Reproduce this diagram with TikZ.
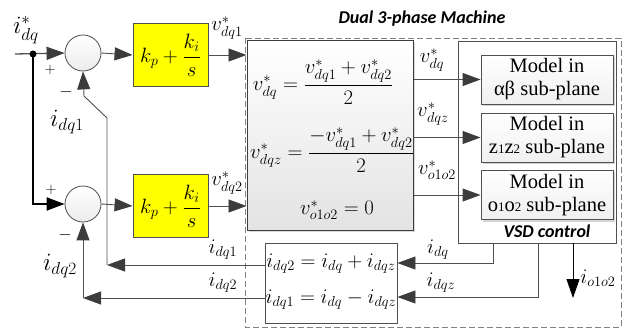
\documentclass[tikz,border=0pt]{standalone}
\usepackage{amsmath}
\usepackage{fontspec}
\setmainfont{Liberation Serif}
\newfontfamily\titlefont{Carlito}
\usetikzlibrary{arrows.meta,shadows,calc}
\definecolor{lc}{HTML}{505050}
\definecolor{ac}{HTML}{3C3C3C}
\definecolor{yel}{HTML}{FFFF00}
\tikzset{
  ln/.style={draw=lc, line width=0.9pt},
  arr/.style={ln, -{Triangle[length=18pt,width=13pt,color=ac,fill=ac]}},
  sumc/.style={circle, draw=lc, line width=0.8pt, minimum size=36pt, inner sep=0pt,
    top color=white, bottom color=gray!15},
  pibox/.style={draw=lc, line width=0.9pt, fill=yel, minimum width=75pt, minimum height=63pt, inner sep=0pt},
  mbox/.style={draw=lc, line width=0.9pt, top color=white, bottom color=gray!12,
    minimum width=132pt, minimum height=49pt, inner sep=0pt, align=center,
    font=\fontsize{20.5}{23}\selectfont,
    drop shadow={shadow xshift=2pt, shadow yshift=-2pt, opacity=0.35}},
  lbl/.style={inner sep=0pt},
  ttl/.style={font=\titlefont\bfseries\itshape\fontsize{18}{20}\selectfont, inner sep=0pt},
}
\begin{document}
\begin{tikzpicture}[x=1pt,y=-1pt, font=\fontsize{20.5}{24}\selectfont]
\useasboundingbox (0,0) rectangle (625,329);

% machine dashed frame
\draw[draw=gray, line width=0.9pt, dash pattern=on 6pt off 3pt] (245,38) rectangle (621,327);
\node[ttl] (title) at (422,19) {Dual 3-phase Machine};

% summing junctions and PI blocks
\node[sumc] (s1) at (83,53) {};
\node[sumc] (s2) at (83,204) {};
\node[pibox] (p1) at (170.5,55) {$k_p+\dfrac{k_i}{s}$};
\node[pibox] (p2) at (170.5,206) {$k_p+\dfrac{k_i}{s}$};

% equation box
\node[draw=ac, line width=1pt, top color=white, bottom color=gray!22, minimum width=166pt, minimum height=189pt,
  drop shadow={shadow xshift=2pt, shadow yshift=-2pt, opacity=0.3}] (eq) at (330,135.5) {};
\node[lbl] (e1) at (323,82) {$v^*_{dq}=\dfrac{v^*_{dq1}+v^*_{dq2}}{2}$};
\node[lbl] (e2) at (332,150) {$v^*_{dqz}=\dfrac{-v^*_{dq1}+v^*_{dq2}}{2}$};
\node[lbl] (e3) at (337,210) {$v^*_{o1o2}=0$};

% VSD control
\node[draw=lc, line width=0.9pt, minimum width=158pt, minimum height=202pt, inner sep=0pt] (vsd) at (537,142) {};
\node[mbox] (m1) at (547,79.5) {Model in\\αβ sub-plane};
\node[mbox] (m2) at (547,137.5) {Model in\\z{\fontsize{13}{13}\selectfont 1}z{\fontsize{13}{13}\selectfont 2} sub-plane};
\node[mbox] (m3) at (547,195) {Model in\\o{\fontsize{13}{13}\selectfont 1}o{\fontsize{13}{13}\selectfont 2} sub-plane};
\node[ttl] (vsdl) at (547,231) {VSD control};

% current equation box
\node[draw=lc, line width=0.9pt, minimum width=132pt, minimum height=80pt, inner sep=0pt] (ib) at (331,283) {};
\node[lbl] (ia) at (331,264) {$i_{dq2}=i_{dq}+i_{dqz}$};
\node[lbl] (ibq) at (331,300) {$i_{dq1}=i_{dq}-i_{dqz}$};

% input
\coordinate (in) at (15,54);
\coordinate (dot) at (33,54);
\draw[arr, line width=1.3pt] (in) -- (s1.west);
\draw[line width=1.8pt, black, -{Triangle[length=18pt,width=13pt,black]}] (dot) |- (s2.west);
\fill[black] (dot) circle (3.5pt);

% forward paths
\draw[arr] (s1.east) -- (p1.west);
\draw[arr] (s2.east) -- (p2.west);
\draw[arr] (p1.east) -- (p1.east -| eq.west);
\draw[arr] (p2.east) -- (p2.east -| eq.west);

% eq box to models
\draw[arr] (eq.east |- m1.west) -- (m1.west);
\draw[arr] (eq.east |- m2.west) -- (m2.west);
\draw[arr] (eq.east |- m3.west) -- (m3.west);

% VSD outputs
\coordinate (c1) at (493,263);
\coordinate (c2) at (538,297);
\coordinate (c3) at (573,298);
\draw[arr] (vsd.south -| c1) -- (c1) -- (c1 -| ib.east);
\draw[arr] (vsd.south -| c2) -- (c2) -- (c2 -| ib.east);
\draw[line width=0.9pt, black, -{Triangle[length=19pt,width=13pt,black]}] (vsd.south -| c3) -- (c3);

% feedback paths
\coordinate (f1) at (107,265);
\coordinate (f1b) at (107,118);
\coordinate (f1c) at (84,96);
\coordinate (f2) at (83,298);
\draw[arr] (ib.west |- f1) -- (f1);
\draw[arr] (f1) -- (f1b) -- (f1c) -- (s1.south);
\draw[arr] (ib.west |- f2) -- (f2);
\draw[arr] (f2) -- (s2.south);

% labels
\node[lbl, font=\fontsize{27}{28}\selectfont] (lin) at (26,30) {$i^*_{dq}$};
\node[lbl, font=\fontsize{14}{14}\selectfont] (pl1) at (50,70) {$+$};
\node[lbl, font=\fontsize{16}{16}\selectfont] (mi1) at (66,92) {$-$};
\node[lbl, font=\fontsize{14}{14}\selectfont] (pl2) at (51,190) {$+$};
\node[lbl, font=\fontsize{16}{16}\selectfont] (mi2) at (65,235) {$-$};
\node[lbl, font=\fontsize{25}{26}\selectfont] (lf1) at (67,122) {$i_{dq1}$};
\node[lbl, font=\fontsize{25}{26}\selectfont] (lf2) at (60,266) {$i_{dq2}$};
\node[lbl] (lv1) at (227,28) {$v^*_{dq1}$};
\node[lbl] (lv2) at (227,183) {$v^*_{dq2}$};
\node[lbl] (lo1) at (432,60) {$v^*_{dq}$};
\node[lbl] (lo2) at (433,114) {$v^*_{dqz}$};
\node[lbl] (lo3) at (437,170) {$v^*_{o1o2}$};
\node[lbl] (li1) at (223,250) {$i_{dq1}$};
\node[lbl] (li2) at (223,283) {$i_{dq2}$};
\node[lbl] (lc1) at (438,250) {$i_{dq}$};
\node[lbl] (lc2) at (441,283) {$i_{dqz}$};
\node[lbl] (lc3) at (598,278) {$i_{o1o2}$};
\end{tikzpicture}
\end{document}
